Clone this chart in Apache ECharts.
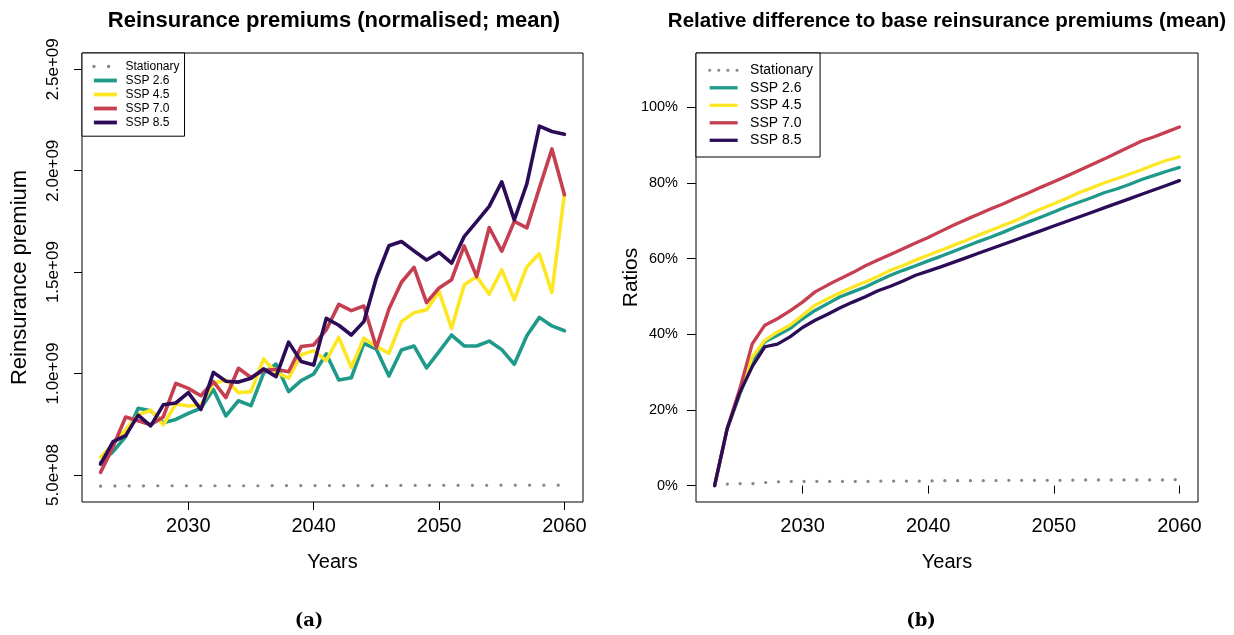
<!DOCTYPE html>
<html><head><meta charset="utf-8">
<script src="https://cdn.jsdelivr.net/npm/echarts@6/dist/echarts.min.js"></script>
<style>html,body{margin:0;padding:0;background:#fff}#c{width:1234px;height:635px}</style>
</head><body><div id="c"></div>
<script>
// ---------- data ----------
const years = [2023,2024,2025,2026,2027,2028,2029,2030,2031,2032,2033,2034,2035,2036,2037,2038,2039,2040,2041,2042,2043,2044,2045,2046,2047,2048,2049,2050,2051,2052,2053,2054,2055,2056,2057,2058,2059,2060];
const seriesNames = ['Stationary','SSP 2.6','SSP 4.5','SSP 7.0','SSP 8.5'];

// (a) reinsurance premiums, in units of 1e9
const premStationary = [0.445,0.446,0.446,0.446,0.447,0.447,0.447,0.447,0.447,0.447,0.447,0.447,0.447,0.447,0.448,0.448,0.448,0.448,0.448,0.448,0.448,0.448,0.448,0.448,0.449,0.449,0.449,0.449,0.449,0.449,0.449,0.449,0.450,0.450,0.450,0.450,0.450,0.450];
const premSSP26 = [0.561,0.615,0.689,0.829,0.817,0.758,0.774,0.804,0.829,0.922,0.791,0.866,0.842,1.001,1.047,0.911,0.965,0.998,1.097,0.968,0.979,1.149,1.120,0.988,1.116,1.136,1.028,1.108,1.190,1.136,1.136,1.160,1.118,1.046,1.186,1.277,1.235,1.211];
const premSSP45 = [0.587,0.650,0.722,0.796,0.820,0.747,0.850,0.840,0.845,0.952,0.968,0.906,0.911,1.072,1.006,0.977,1.092,1.113,1.064,1.179,1.030,1.174,1.133,1.100,1.256,1.300,1.314,1.404,1.223,1.437,1.478,1.391,1.511,1.363,1.527,1.590,1.399,1.885];
const premSSP70 = [0.513,0.640,0.786,0.767,0.748,0.786,0.952,0.927,0.891,0.960,0.882,1.026,0.981,1.014,1.021,1.009,1.133,1.141,1.215,1.341,1.310,1.333,1.128,1.318,1.450,1.523,1.350,1.422,1.463,1.629,1.478,1.720,1.603,1.750,1.718,1.914,2.107,1.881];
const premSSP85 = [0.554,0.664,0.694,0.795,0.742,0.846,0.855,0.906,0.823,1.006,0.962,0.958,0.977,1.023,0.985,1.155,1.059,1.042,1.272,1.238,1.190,1.256,1.471,1.630,1.651,1.605,1.560,1.597,1.544,1.675,1.749,1.824,1.945,1.757,1.935,2.220,2.193,2.179];
const premTicks = [5e8,1e9,1.5e9,2e9,2.5e9];

// (b) relative difference to base premiums, in %
const relStationary = [0,0.4,0.5,0.5,0.8,1.0,1.1,1.1,1.1,1.1,1.1,1.1,1.1,1.2,1.2,1.2,1.2,1.2,1.3,1.3,1.3,1.3,1.3,1.4,1.4,1.4,1.4,1.4,1.4,1.5,1.5,1.5,1.5,1.5,1.5,1.5,1.5,1.6];
const relSSP26 = [0,15.0,24.0,33.1,38.0,39.7,41.5,44.1,46.3,48.1,49.9,51.2,52.5,54.1,55.6,56.9,58.1,59.4,60.6,61.9,63.2,64.5,65.7,67.0,68.4,69.7,71.0,72.3,73.7,74.9,76.1,77.4,78.4,79.6,80.9,82.0,83.1,84.1];
const relSSP45 = [0,15.0,24.5,34.0,38.4,40.6,42.4,45.0,47.7,49.4,51.0,52.5,53.8,55.3,56.9,58.2,59.6,60.9,62.2,63.5,64.8,66.2,67.5,68.8,70.1,71.7,73.2,74.5,75.9,77.4,78.7,80.0,81.1,82.3,83.5,84.8,86.0,86.9];
const relSSP70 = [0,15.1,25.5,37.5,42.4,44.1,46.2,48.5,51.2,53.0,54.7,56.3,58.1,59.6,61.1,62.6,64.1,65.6,67.2,68.8,70.3,71.7,73.2,74.5,76.0,77.4,78.9,80.3,81.8,83.3,84.8,86.3,87.9,89.5,91.1,92.2,93.5,94.8];
const relSSP85 = [0,15.0,24.5,31.5,36.7,37.4,39.3,41.8,43.7,45.3,47.0,48.5,49.9,51.5,52.7,54.1,55.6,56.7,57.8,59.0,60.2,61.4,62.6,63.8,65.0,66.2,67.4,68.6,69.8,71.0,72.2,73.4,74.6,75.8,77.0,78.2,79.4,80.6];
const relTicks = [0,20,40,60,80,100];
const yearTicks = [2030,2040,2050,2060];

// ---------- styles ----------
const colors = {'Stationary':'#888888','SSP 2.6':'#1f9a8a','SSP 4.5':'#fde725','SSP 7.0':'#c63f51','SSP 8.5':'#2c0c58'};
const FONT = '"Liberation Sans", Arial, Helvetica, sans-serif';

function pairs(vals, scale){ return years.map((y,i)=>[y, vals[i]*scale]); }

function lineSeries(name, vals, scale, idx, width, dots){
  const ls = {color: colors[name], width: width, join:'round', cap:'round'};
  if (dots) { ls.type = [0.1, dots]; ls.width = 3.2; }
  return {name, type:'line', xAxisIndex:idx, yAxisIndex:idx, data:pairs(vals, scale),
    symbol:'none', itemStyle:{color:colors[name]}, lineStyle: ls, silent:true, z: dots ? 1 : 2, animation:false};
}

const leftData = [premStationary, premSSP26, premSSP45, premSSP70, premSSP85];
const rightData = [relStationary, relSSP26, relSSP45, relSSP70, relSSP85];
const series = [];
seriesNames.forEach((n,i)=>series.push(lineSeries(n, leftData[i], 1e9, 0, 3.6, i===0 ? 14.2 : 0)));
seriesNames.forEach((n,i)=>series.push(lineSeries(n, rightData[i], 1, 1, 3.3, i===0 ? 12.7 : 0)));

function xAxis(idx){
  return {type:'value', gridIndex:idx, min:2021.52, max:2061.48,
    name:'Years', nameLocation:'middle', nameGap:50, nameMoveOverlap:false,
    nameTextStyle:{fontSize:20, color:'#000', fontFamily:FONT},
    axisLine:{show:false}, splitLine:{show:false},
    axisTick:{show:true, length:8, customValues:yearTicks, lineStyle:{color:'#000', width:1}},
    axisLabel:{customValues:yearTicks, fontSize:20, color:'#000', margin:14, fontFamily:FONT,
      formatter:v=>String(Math.round(v))}};
}

function legendData(dash, dotW, lineW){
  return seriesNames.map(n=>n==='Stationary'
    ? {name:n, lineStyle:{type:[0.1,dash], width:dotW, color:colors[n], cap:'round'}}
    : {name:n, lineStyle:{width:lineW, color:colors[n], cap:'butt'}});
}

const option = {
  animation:false,
  backgroundColor:'#fff',
  textStyle:{fontFamily:FONT},
  grid:[
    {left:82, top:53, width:501, height:449, show:true, borderColor:'#000', borderWidth:1, backgroundColor:'transparent'},
    {left:696, top:53, width:502, height:449, show:true, borderColor:'#000', borderWidth:1, backgroundColor:'transparent'}
  ],
  xAxis:[xAxis(0), xAxis(1)],
  yAxis:[
    {type:'value', gridIndex:0, min:3.67e8, max:2.58e9,
      name:'Reinsurance premium', nameLocation:'middle', nameGap:51, nameMoveOverlap:false,
      nameTextStyle:{fontSize:22, color:'#000', fontFamily:FONT},
      axisLine:{show:false}, splitLine:{show:false},
      axisTick:{show:true, length:8, customValues:premTicks, lineStyle:{color:'#000', width:1}},
      axisLabel:{customValues:premTicks, rotate:90, fontSize:17, color:'#000', margin:20, fontFamily:FONT,
        formatter:v=>Number(v).toExponential(1).replace('e+','e+0')}},
    {type:'value', gridIndex:1, min:-4.34, max:114.35,
      name:'Ratios', nameLocation:'middle', nameGap:54, nameMoveOverlap:false,
      nameTextStyle:{fontSize:21, color:'#000', fontFamily:FONT},
      axisLine:{show:false}, splitLine:{show:false},
      axisTick:{show:true, length:9, customValues:relTicks, lineStyle:{color:'#000', width:1}},
      axisLabel:{customValues:relTicks, fontSize:14.5, color:'#000', margin:18, fontFamily:FONT,
        formatter:v=>Math.round(v)+'%'}}
  ],
  legend:[
    {left:82, top:53, orient:'vertical', padding:[7.5,5,7.7,10], itemWidth:23, itemHeight:12, itemGap:2,
      borderColor:'#000', borderWidth:1, backgroundColor:'#fff', selectedMode:false,
      itemStyle:{opacity:0},
      textStyle:{fontSize:12, color:'#000', fontFamily:FONT, padding:[0,0,0,3.6]},
      data:legendData(14.5, 3.4, 3.8)},
    {left:696, top:53, orient:'vertical', padding:[10.3,7,9.7,12], itemWidth:28, itemHeight:14, itemGap:3.5,
      borderColor:'#000', borderWidth:1, backgroundColor:'#fff', selectedMode:false,
      itemStyle:{opacity:0},
      textStyle:{fontSize:14, color:'#000', fontFamily:FONT, padding:[0,0,0,7.4]},
      data:legendData(9, 3, 3.3)}
  ],
  graphic:[
    {type:'text', x:334, y:21, style:{text:'Reinsurance premiums (normalised; mean)', font:'bold 22px '+FONT, fill:'#000', align:'center', verticalAlign:'middle'}},
    {type:'text', x:947, y:21, style:{text:'Relative difference to base reinsurance premiums (mean)', font:'bold 20.5px '+FONT, fill:'#000', align:'center', verticalAlign:'middle'}},
    {type:'text', x:309, y:621, style:{text:'(a)', font:'bold 18px "DejaVu Serif", serif', fill:'#000', align:'center', verticalAlign:'middle'}},
    {type:'text', x:921, y:621, style:{text:'(b)', font:'bold 18px "DejaVu Serif", serif', fill:'#000', align:'center', verticalAlign:'middle'}}
  ],
  series: series
};
const chart = echarts.init(document.getElementById('c'), null, {renderer:'canvas', width:1234, height:635});
chart.setOption(option);
</script>
</body></html>
